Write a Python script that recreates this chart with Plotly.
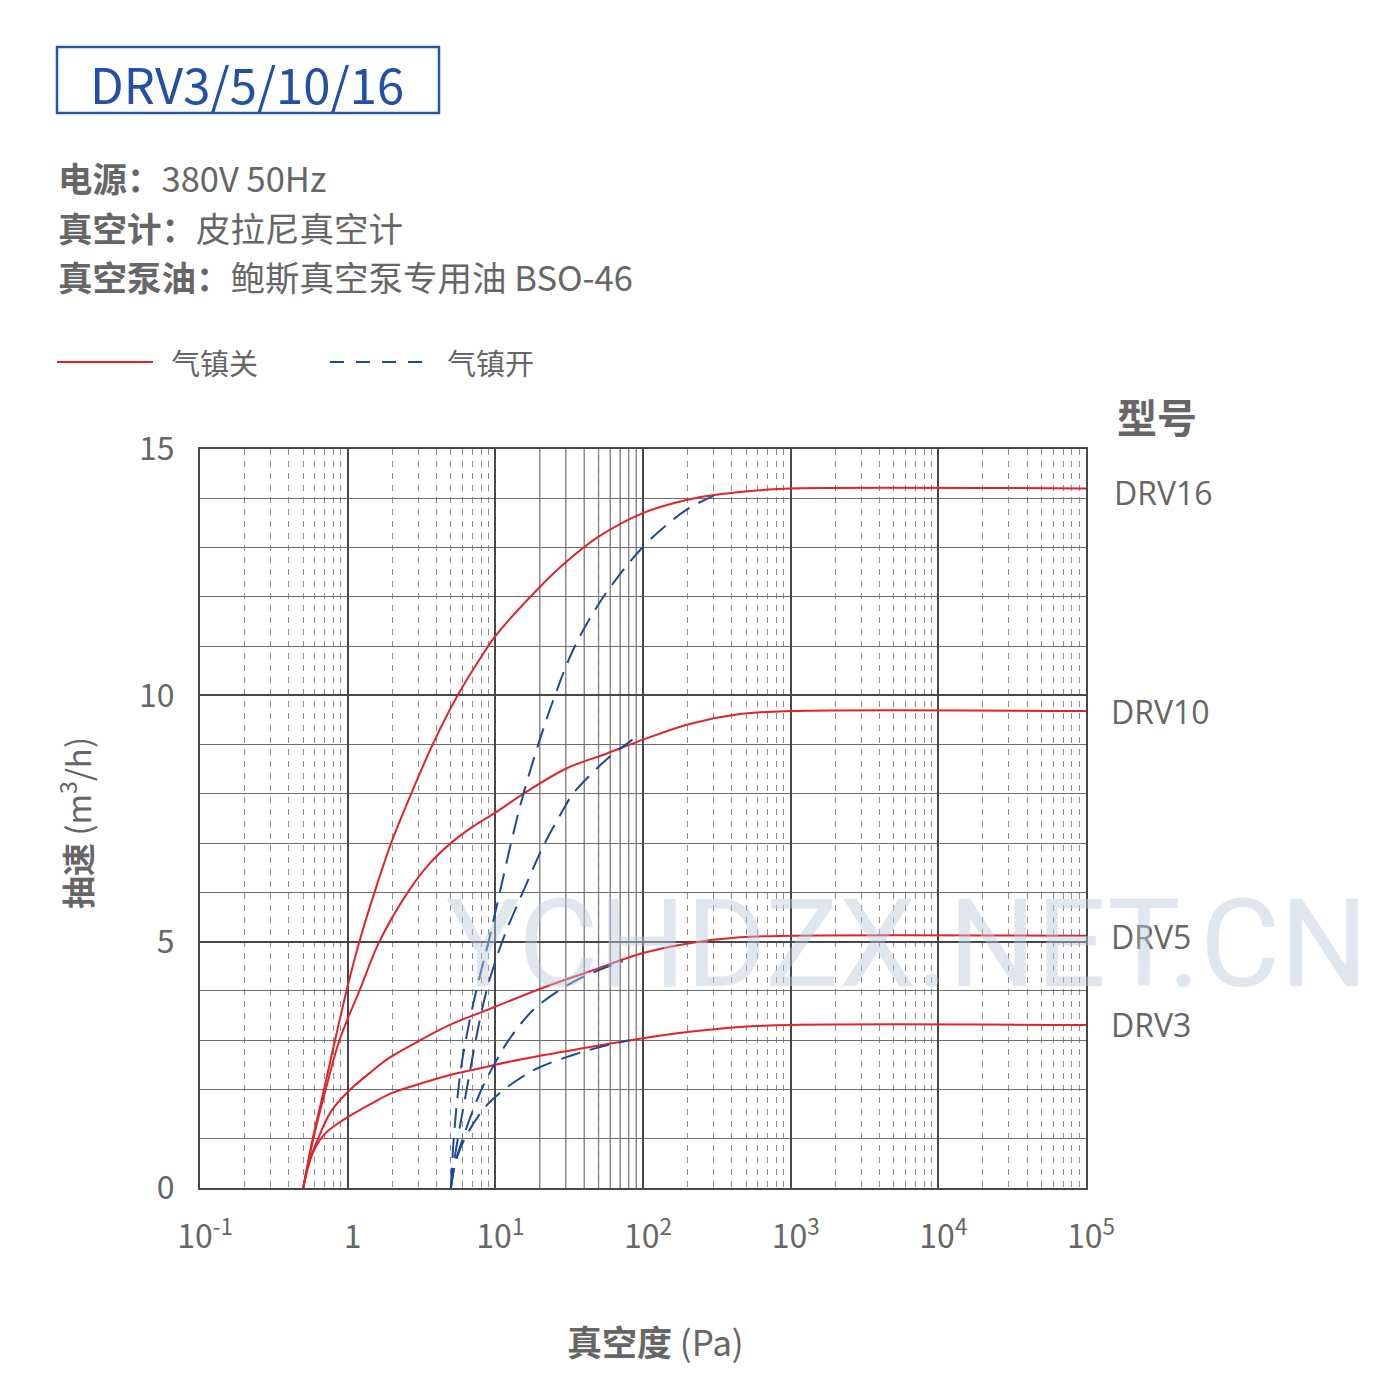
import plotly.graph_objects as go

# ---------------- data ----------------
decade_vals = [0.1, 1, 10, 100, 1000, 10000, 100000]
decade_text = ["10<sup>-1</sup>", "1", "10<sup>1</sup>", "10<sup>2</sup>",
               "10<sup>3</sup>", "10<sup>4</sup>", "10<sup>5</sup>"]
solid_minor_vals = [20, 30, 40, 50, 60, 70, 80, 90]
speed_ticks = [0, 5, 10, 15]

# gas ballast closed (气镇关)
drv16_off_p = [0.5, 0.58, 0.68, 0.8, 1, 1.2, 1.52, 1.97, 2.69, 3.76, 5.56, 8.3, 10, 20, 30, 50, 100, 200, 330, 650, 1000, 100000]
drv16_off_s = [0, 1.0, 1.9, 2.85, 4.1, 5.0, 6.0, 7.0, 8.0, 9.0, 10.0, 10.85, 11.2, 12.2, 12.7, 13.22, 13.7, 13.97, 14.08, 14.17, 14.2, 14.2]

drv10_off_p = [0.5, 0.585, 0.71, 0.88, 1.2, 1.64, 2.55, 3.5, 5, 7, 10, 16.4, 30.5, 57, 100, 207, 453, 1000, 100000]
drv10_off_s = [0, 1.0, 2.0, 3.0, 4.0, 5.0, 6.0, 6.55, 7.0, 7.33, 7.62, 8.05, 8.52, 8.82, 9.1, 9.42, 9.62, 9.68, 9.68]

drv5_off_p = [0.5, 0.56, 0.63, 0.77, 1, 1.5, 1.91, 3.1, 5, 10, 20, 43.8, 100, 207, 453, 1000, 100000]
drv5_off_s = [0, 0.6, 1.0, 1.55, 1.95, 2.4, 2.64, 3.0, 3.32, 3.68, 4.04, 4.4, 4.77, 4.97, 5.09, 5.12, 5.12]

drv3_off_p = [0.5, 0.54, 0.6, 0.7, 0.85, 1, 1.5, 2, 3.2, 5, 7.1, 15.4, 43.8, 100, 207, 453, 1000, 100000]
drv3_off_s = [0, 0.45, 0.8, 1.1, 1.3, 1.44, 1.74, 1.93, 2.13, 2.3, 2.4, 2.62, 2.86, 3.04, 3.17, 3.27, 3.31, 3.31]

# gas ballast open (气镇开)
drv16_on_p = [5, 5.2, 5.5, 5.9, 6.4, 7.1, 8, 9, 10, 11.2, 13, 15.5, 20, 25, 34, 54, 99, 150, 205, 300]
drv16_on_s = [0, 0.9, 1.75, 2.5, 3.1, 3.75, 4.4, 5.0, 5.6, 6.25, 7.1, 8.0, 9.1, 9.95, 10.95, 12.0, 13.0, 13.5, 13.8, 14.05]

drv10_on_p = [5, 5.3, 5.8, 6.4, 7.1, 7.9, 8.8, 10, 11.8, 16.4, 21.2, 28.7, 33.5, 49.6, 58.2, 85]
drv10_on_s = [0, 0.6, 1.3, 2.0, 2.75, 3.45, 4.05, 4.6, 5.2, 6.2, 6.95, 7.67, 8.0, 8.54, 8.73, 9.1]

drv5_on_p = [5, 5.4, 6.1, 7.0, 8.2, 10, 12, 15.3, 19.8, 33.5, 50, 73]
drv5_on_s = [0, 0.55, 1.05, 1.55, 2.05, 2.55, 2.95, 3.38, 3.72, 4.18, 4.42, 4.6]

drv3_on_p = [5, 5.25, 5.7, 6.6, 8.2, 9.6, 13, 19, 33.5, 51, 81]
drv3_on_s = [0, 0.4, 0.75, 1.15, 1.58, 1.8, 2.12, 2.42, 2.7, 2.86, 3.0]

model_names = ["DRV16", "DRV10", "DRV5", "DRV3"]
model_max = [14.2, 9.68, 5.12, 3.31]

# ---------------- layout helpers ----------------
L, R, T, B = 200, 1086, 449, 1188
def px(x):
    return (x - L) / (R - L)
def py(y):
    return (B - y) / (B - T)

RED = "#e0242a"
BLUE = "#1f4a9a"
GRAY_TXT = "#666666"
CJK = "Noto Sans CJK SC"

fig = go.Figure()

off_sets = [(drv16_off_p, drv16_off_s), (drv10_off_p, drv10_off_s),
            (drv5_off_p, drv5_off_s), (drv3_off_p, drv3_off_s)]
on_sets = [(drv16_on_p, drv16_on_s), (drv10_on_p, drv10_on_s),
           (drv5_on_p, drv5_on_s), (drv3_on_p, drv3_on_s)]

for name, (p, s) in zip(model_names, off_sets):
    fig.add_trace(go.Scatter(x=p, y=s, mode="lines", name=name + " 气镇关",
                             line=dict(color=RED, width=2, shape="spline", smoothing=1),
                             showlegend=False, hoverinfo="skip"))
for name, (p, s) in zip(model_names, on_sets):
    fig.add_trace(go.Scatter(x=p, y=s, mode="lines", name=name + " 气镇开",
                             line=dict(color=BLUE, width=2, dash="20px,10px",
                                       shape="spline", smoothing=1),
                             showlegend=False, hoverinfo="skip"))

shapes = []
# solid minor grid lines in the 10-100 decade
for v in solid_minor_vals:
    shapes.append(dict(type="line", xref="x", yref="paper", x0=v, x1=v, y0=0, y1=1,
                       line=dict(color="#7a7a7a", width=1.3), layer="between"))
# title box
shapes.append(dict(type="rect", xref="paper", yref="paper",
                   x0=px(57), x1=px(439), y0=py(113), y1=py(47),
                   line=dict(color="#2a55a8", width=2.5), fillcolor="rgba(0,0,0,0)"))
# legend samples
shapes.append(dict(type="line", xref="paper", yref="paper",
                   x0=px(57), x1=px(153), y0=py(362), y1=py(362),
                   line=dict(color=RED, width=1.8)))
shapes.append(dict(type="line", xref="paper", yref="paper",
                   x0=px(330), x1=px(430), y0=py(362), y1=py(362),
                   line=dict(color=BLUE, width=1.8, dash="14px,12px")))

def txt(text, x, y, size, color=GRAY_TXT, family=CJK, xanchor="center", **kw):
    d = dict(text=text, x=px(x), y=py(y), xref="paper", yref="paper",
             xanchor=xanchor, yanchor="middle", showarrow=False,
             font=dict(family=family, size=size, color=color))
    d.update(kw)
    return d

ann = []
ann.append(txt("DRV3/5/10/16", 247, 82, 49, color="#2250a6"))
info = [("电源：", "380V 50Hz", 177),
        ("真空计：", "皮拉尼真空计", 227),
        ("真空泵油：", "鲍斯真空泵专用油 BSO-46", 276)]
for a, b, yy in info:
    ann.append(txt("<b>" + a + "</b>" + b, 56, yy, 34.5, xanchor="left"))
ann.append(txt("气镇关", 169, 362, 29, xanchor="left"))
ann.append(txt("气镇开", 445, 362, 29, xanchor="left"))
ann.append(txt("<b>型号</b>", 1115, 416, 40, xanchor="left"))
label_dx = [1112, 1109, 1109, 1109]
label_dy = [4, 0, 1, 0]
for name, v, lx, dy in zip(model_names, model_max, label_dx, label_dy):
    ann.append(dict(text=name, x=px(lx), y=v, xref="paper", yref="y",
                    xanchor="left", yanchor="middle", yshift=-dy, showarrow=False,
                    font=dict(family="Open Sans", size=32, color=GRAY_TXT)))
ann.append(txt("<b>抽速</b> (m<sup>3</sup>/h)", 75, 823, 33, textangle=-90))
ann.append(txt("<b>真空度</b> (Pa)", 655, 1340, 35))
# watermark
ann.append(txt("YCHDZX.NET.CN", 907, 944, 123, color="rgba(185,200,214,0.45)", family="Roboto"))

fig.update_layout(
    width=1400, height=1400,
    margin=dict(l=L, r=1400 - R, t=T, b=1400 - B, pad=0),
    paper_bgcolor="white", plot_bgcolor="white",
    shapes=shapes, annotations=ann,
    showlegend=False,
    xaxis=dict(type="log", range=[-1, 5], tickvals=decade_vals, ticktext=decade_text,
               showgrid=True, gridcolor="#474747", gridwidth=2,
               minor=dict(dtick="D1", showgrid=True, gridcolor="#8c8c8c", gridwidth=1.2,
                          griddash="6px,6px", ticks=""),
               showline=True, mirror=True, linecolor="#474747", linewidth=2,
               ticks="", ticklabelstandoff=20, ticklabelshift=5, zeroline=False,
               tickfont=dict(family=CJK, size=32, color=GRAY_TXT)),
    yaxis=dict(range=[0, 15], tickvals=speed_ticks,
               showgrid=True, gridcolor="#474747", gridwidth=2,
               minor=dict(dtick=1, showgrid=True, gridcolor="#6e6e6e", gridwidth=1.2, ticks=""),
               showline=True, mirror=True, linecolor="#474747", linewidth=2,
               ticks="", ticklabelstandoff=17, zeroline=False,
               tickfont=dict(family=CJK, size=32, color=GRAY_TXT)),
)

fig.write_html("out.html", config={"displayModeBar": False},
               post_script="document.body.style.margin='0px';")
